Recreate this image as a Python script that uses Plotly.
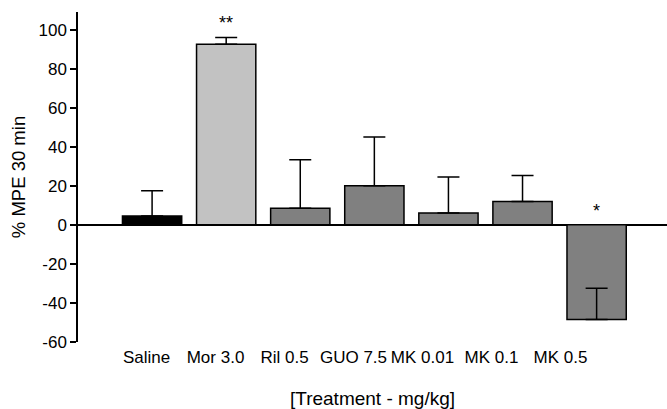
import plotly.graph_objects as go

categories = ["Saline", "Mor 3.0", "Ril 0.5", "GUO 7.5", "MK 0.01", "MK 0.1", "MK 0.5"]
means = [4.5, 92.5, 8.5, 20.0, 6.0, 12.0, -48.5]
err_up = [13.0, 3.5, 24.8, 25.0, 18.5, 13.3, 16.0]
err_down = [0, 0, 0, 0, 0, 0, 0]
bar_colors = ["#000000", "#c2c2c2", "#808080", "#808080", "#808080", "#808080", "#808080"]
significance = ["", "**", "", "", "", "", "*"]
yticks = [-60, -40, -20, 0, 20, 40, 60, 80, 100]

FONT = "Liberation Sans, Arial, sans-serif"

fig = go.Figure()
# invisible trace carrying category labels on the label axis
fig.add_trace(go.Scatter(x=categories, y=[0] * len(categories), mode="markers",
                         marker=dict(opacity=0), hoverinfo="skip", showlegend=False,
                         xaxis="x", yaxis="y"))
fig.add_trace(go.Bar(
    x=categories, y=means, xaxis="x2", yaxis="y",
    width=0.8,
    marker=dict(color=bar_colors, line=dict(color="#000000", width=1.5)),
    error_y=dict(type="data", symmetric=False, array=err_up, arrayminus=err_down,
                 color="#000000", thickness=1.5, width=11),
    showlegend=False,
))

annotations = []
for c, m, e, s in zip(categories, means, err_up, significance):
    if not s:
        continue
    top = m + e if m >= 0 else 0
    annotations.append(dict(x=c, y=top, xref="x2", yref="y", text=s, showarrow=False,
                            yanchor="bottom", yshift=2,
                            font=dict(family=FONT, size=18, color="#000000")))

fig.update_layout(
    width=667, height=409,
    margin=dict(l=78, r=0, t=12, b=67),
    paper_bgcolor="white", plot_bgcolor="white",
    font=dict(family=FONT, color="#000000"),
    annotations=annotations,
    xaxis=dict(
        type="category", categoryorder="array", categoryarray=categories,
        range=[-0.993, 7.543], showline=False, showgrid=False, zeroline=False,
        ticks="", tickfont=dict(size=17, family=FONT), ticklabelstandoff=3,
        title=dict(text="[Treatment - mg/kg]", font=dict(size=19, family=FONT), standoff=26),
        fixedrange=True,
    ),
    xaxis2=dict(
        type="category", categoryorder="array", categoryarray=categories,
        overlaying="x", range=[-1.0, 6.95], visible=False,
    ),
    yaxis=dict(
        range=[-60, 109], tickvals=yticks, ticktext=[str(v) for v in yticks],
        showgrid=False,
        showline=True, linecolor="#000000", linewidth=1.5,
        ticks="outside", ticklen=6, tickwidth=1.5, tickcolor="#000000",
        zeroline=True, zerolinecolor="#000000", zerolinewidth=1.5,
        tickfont=dict(size=17, family=FONT),
        title=dict(text="% MPE 30 min", font=dict(size=18.5, family=FONT), standoff=8),
    ),
    bargap=0.2,
)

fig.write_html("out.html", config={"displayModeBar": False},
               post_script="document.body.style.margin='0';")
